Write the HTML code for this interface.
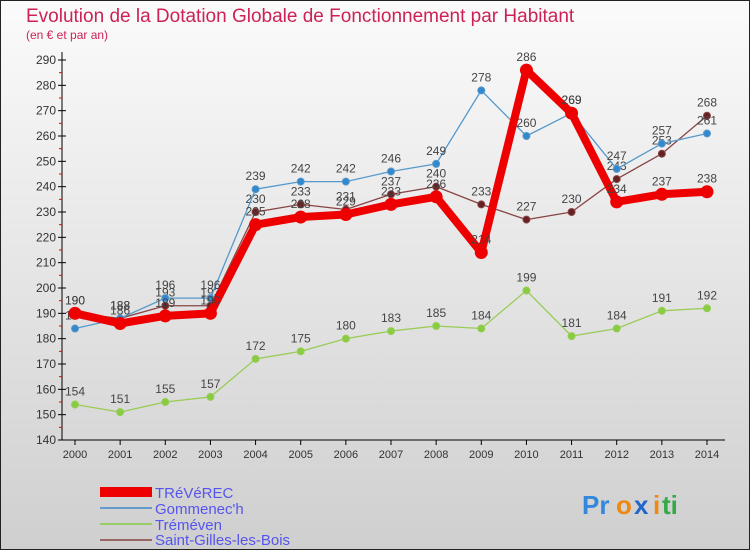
<!DOCTYPE html>
<html><head><meta charset="utf-8"><style>
html,body{margin:0;padding:0}
body{width:750px;height:550px;overflow:hidden;font-family:"Liberation Sans",sans-serif}
svg text{font-family:"Liberation Sans",sans-serif}
</style></head><body>
<svg id="chart" width="750" height="550" xmlns="http://www.w3.org/2000/svg">
<defs><linearGradient id="bg" x1="0" y1="0" x2="0" y2="1"><stop offset="0" stop-color="#fbfbfb"/><stop offset="1" stop-color="#cfcfcf"/></linearGradient></defs>
<rect x="0.5" y="0.5" width="749" height="549" fill="url(#bg)" stroke="#222"/>
<text x="26" y="22" font-size="19" fill="#cc2255">Evolution de la Dotation Globale de Fonctionnement par Habitant</text>
<text x="26" y="39" font-size="12" fill="#cc2255">(en € et par an)</text>
<g id="axes"></g><g id="series"></g>
<g>
<rect x="100" y="487" width="52" height="10" fill="#ee0000"/>
<text x="155" y="498" font-size="15" fill="#5555ee">TRéVéREC</text>
<line x1="100" y1="508" x2="152" y2="508" stroke="#6699cc" stroke-width="2"/>
<text x="155" y="514" font-size="15" fill="#5555ee">Gommenec'h</text>
<line x1="100" y1="524" x2="152" y2="524" stroke="#99cc66" stroke-width="2"/>
<text x="155" y="530" font-size="15" fill="#5555ee">Tréméven</text>
<line x1="100" y1="540" x2="152" y2="540" stroke="#996666" stroke-width="2"/>
<text x="155" y="545" font-size="15" fill="#5555ee">Saint-Gilles-les-Bois</text>
</g>
<g font-size="26" font-weight="bold">
<text x="582" y="514" fill="#3388dd">Pr</text><text x="616" y="514" fill="#ee8811">o</text><text x="634" y="514" fill="#2266cc">x</text><text x="653" y="514" fill="#ee8811">i</text><text x="662" y="514" fill="#33aa44">ti</text>
</g>
</svg>
<script>
const years=[2000,2001,2002,2003,2004,2005,2006,2007,2008,2009,2010,2011,2012,2013,2014];
const yTicks=[140,150,160,170,180,190,200,210,220,230,240,250,260,270,280,290];
const treverec=[190,186,189,190,225,228,229,233,236,214,286,269,234,237,238];
const gommenech=[184,188,196,196,239,242,242,246,249,278,260,269,247,257,261];
const tremeven=[154,151,155,157,172,175,180,183,185,184,199,181,184,191,192];
const saintGilles=[190,188,193,193,230,233,231,237,240,233,227,230,243,253,268];
const NS="http://www.w3.org/2000/svg";
function X(i){return 75+i*(707-75)/(years.length-1);}
function Y(v){return 440-(v-140)*(380/150);}
function mk(tag,attrs,parent,txt){const e=document.createElementNS(NS,tag);for(const k in attrs)e.setAttribute(k,attrs[k]);if(txt!==undefined)e.textContent=txt;parent.appendChild(e);return e;}
const ax=document.getElementById('axes');
let a=mk('line',{x1:62,y1:52,x2:62,y2:440,stroke:'#000'},ax);


a=mk('line',{x1:62,y1:440,x2:725,y2:440,stroke:'#000'},ax);


yTicks.forEach(v=>{
  mk('line',{x1:58,y1:Y(v),x2:66,y2:Y(v),stroke:'#000'},ax);
  if(v<290)mk('line',{x1:59,y1:Y(v+5),x2:62,y2:Y(v+5),stroke:'#e00'},ax);
  const t=mk('text',{x:56,y:Y(v)+4,'font-size':12,'text-anchor':'end',fill:'#333'},ax,v);
  
  
});
years.forEach((y,i)=>{
  mk('line',{x1:X(i),y1:440,x2:X(i),y2:445,stroke:'#000'},ax);
  const t=mk('text',{x:X(i),y:458,'font-size':11,'text-anchor':'middle',fill:'#333'},ax,y);
  
  
});
const sg=document.getElementById('series');
function draw(data,name,color,w,r,dot,lblDy){
  const g=mk('g',{},sg);
  
  
  const l=mk('polyline',{points:data.map((v,i)=>X(i)+','+Y(v)).join(' '),fill:'none',stroke:color,'stroke-width':w,'stroke-linejoin':'round'},g);
  
  
  data.forEach((v,i)=>{
    const c=mk('circle',{cx:X(i),cy:Y(v),r:r,fill:dot,stroke:color==dot?'none':color,'stroke-width':1},g);
    
    
    const t=mk('text',{x:X(i),y:Y(v)-9,'font-size':12,'text-anchor':'middle',fill:'#444'},g,v);
    
    
  });
}
draw(tremeven,'tremeven','#99cc55',1.3,3.5,'#88cc44');
draw(saintGilles,'saint-gilles','#884444',1.3,3.5,'#662222');
draw(gommenech,'gommenech','#5599cc',1.3,3.5,'#3388cc');
draw(treverec,'treverec','#ee0000',8,6.5,'#ee0000');
</script>
</body></html>
